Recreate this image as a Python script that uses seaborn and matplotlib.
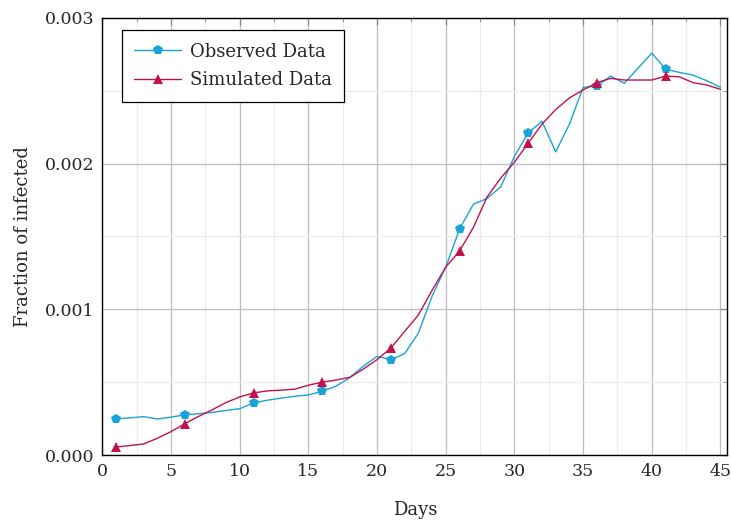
import numpy as np
import pandas as pd
import seaborn as sns
import matplotlib
matplotlib.use("Agg")
import matplotlib.pyplot as plt
from matplotlib.ticker import MultipleLocator, FormatStrFormatter

days = list(range(1, 46))
observed = [0.000247, 0.000255, 0.000263, 0.000247, 0.000260, 0.000276, 0.000283, 0.000293,
            0.000306, 0.000318, 0.000357, 0.000376, 0.000390, 0.000403, 0.000412, 0.000438,
            0.000472, 0.000530, 0.000610, 0.000677, 0.000655, 0.000695, 0.000836, 0.001090,
            0.001290, 0.001550, 0.001720, 0.001760, 0.001840, 0.002050, 0.002210, 0.002290,
            0.002080, 0.002270, 0.002523, 0.002530, 0.002600, 0.002550, 0.002655, 0.002757,
            0.002648, 0.002625, 0.002607, 0.002568, 0.002523]
simulated = [0.000055, 0.000065, 0.000076, 0.000115, 0.000161, 0.000215, 0.000265, 0.000311,
             0.000360, 0.000399, 0.000426, 0.000440, 0.000445, 0.000452, 0.000479, 0.000500,
             0.000514, 0.000533, 0.000590, 0.000655, 0.000734, 0.000848, 0.000960, 0.001130,
             0.001290, 0.001400, 0.001560, 0.001770, 0.001900, 0.002010, 0.002140, 0.002270,
             0.002370, 0.002450, 0.002505, 0.002555, 0.002584, 0.002573, 0.002573, 0.002573,
             0.002600, 0.002595, 0.002555, 0.002539, 0.002509]
series_names = ["Observed Data", "Simulated Data"]
x_label = "Days"
y_label = "Fraction of infected"

sns.set_style("white")
plt.rcParams['font.family'] = ['DejaVu Serif']

fig = plt.figure(figsize=(7.31, 5.23), dpi=100)
ax = fig.add_axes([0.1402, 0.130, 0.995 - 0.1402, 0.966 - 0.130])

df = pd.DataFrame({
    "Days": days * 2,
    "value": observed + simulated,
    "series": [series_names[0]] * len(days) + [series_names[1]] * len(days),
})

colors = {"Observed Data": "#1AA3D8", "Simulated Data": "#C2114D"}
marks = {"Observed Data": "p", "Simulated Data": "^"}

for name in series_names:
    sub = df[df["series"] == name]
    sns.lineplot(data=sub, x="Days", y="value", ax=ax, color=colors[name],
                 marker=marks[name], markersize=7.5, markevery=5, linewidth=1.0,
                 markeredgewidth=0, label=name, zorder=3)

ax.set_xlim(0, 45.5)
ax.set_ylim(0, 0.003)
ax.xaxis.set_major_locator(MultipleLocator(5))
ax.xaxis.set_minor_locator(MultipleLocator(2.5))
ax.yaxis.set_major_locator(MultipleLocator(0.001))
ax.yaxis.set_minor_locator(MultipleLocator(0.0005))
ax.yaxis.set_major_formatter(FormatStrFormatter("%.3f"))

ax.grid(which="major", color="#BEBEBE", linewidth=0.9, zorder=0)
ax.grid(which="minor", color="#EBEBEB", linewidth=0.8, zorder=0)
ax.set_axisbelow(True)

ax.tick_params(which="both", direction="in", top=True, right=True, color="#888888",
               labelsize=12.5, pad=6)
ax.tick_params(which="major", length=5, width=0.9)
ax.tick_params(which="minor", length=3, width=0.6)
for s in ax.spines.values():
    s.set_color("black")
    s.set_linewidth(1.0)
    s.set_visible(True)

ax.set_xlabel(x_label, fontsize=13, labelpad=15)
ax.set_ylabel(y_label, fontsize=13, labelpad=9)

leg = ax.legend(loc="upper left", bbox_to_anchor=(0.031, 0.972), fontsize=13,
                frameon=True, fancybox=False, edgecolor="black", framealpha=1,
                handlelength=2.6, borderpad=0.7, labelspacing=0.6, handletextpad=0.45,
                borderaxespad=0)
leg.get_frame().set_linewidth(0.9)

fig.savefig("out.png", dpi=100)
